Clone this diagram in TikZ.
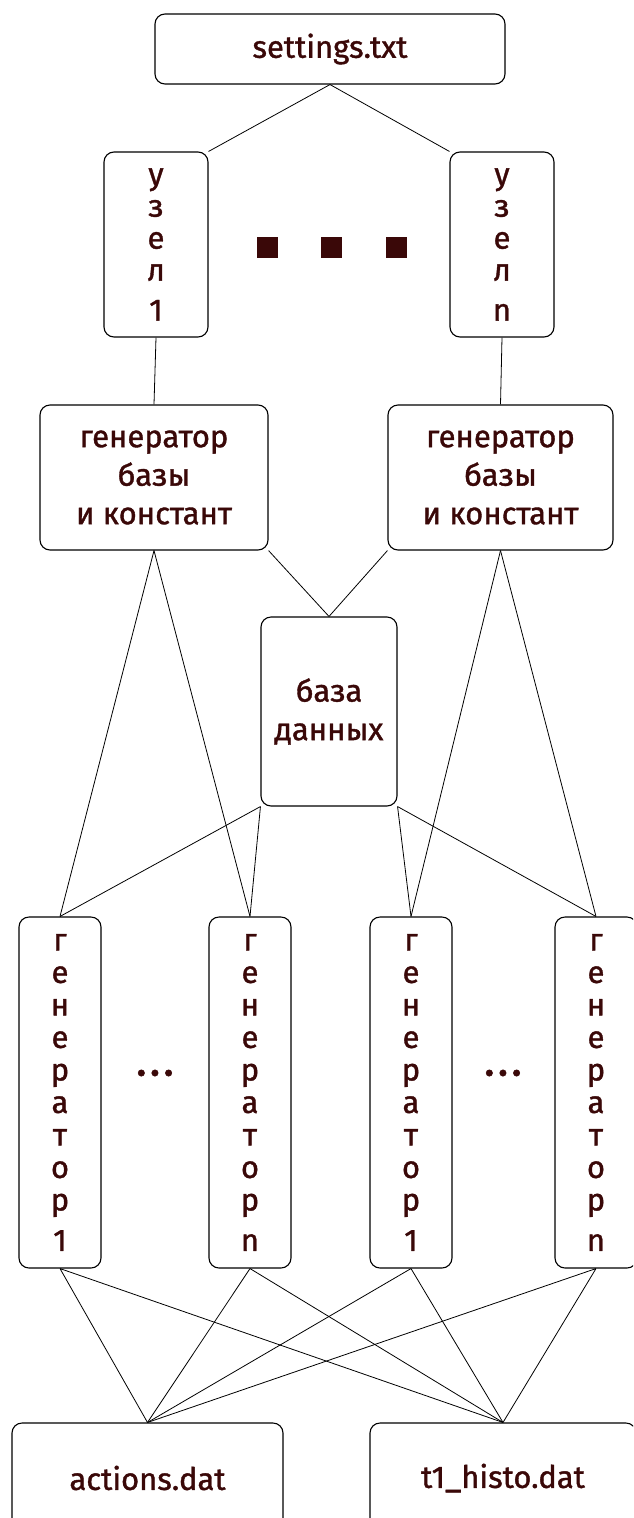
\documentclass[tikz,border=0pt]{standalone}
\usepackage{fontspec}
\setmainfont{Fira Sans}[FakeBold=1.2]
\definecolor{txtred}{HTML}{3A0808}
\begin{document}
\begin{tikzpicture}[x=1pt,y=-1pt,
  box/.style={draw,line width=1.1pt,rounded corners=10pt,fill=white,text=txtred,align=center,inner sep=0pt,font=\fontsize{31}{38.5}\selectfont},
  vbox/.style={box,minimum width=104pt,minimum height=185pt,font=\fontsize{31}{32}\selectfont},
  gbox/.style={box,minimum width=82pt,minimum height=351pt,font=\fontsize{31}{32.5}\selectfont},
  sq/.style={fill=txtred,minimum size=21pt,inner sep=0pt},
  link/.style={draw,line width=0.8pt}]
\clip (0,0) rectangle (633,1518);
\node[box,minimum width=350pt,minimum height=70pt] (settings) at (330,49) {settings.txt};
\node[vbox] (uzel1) at (156,244.5) {у\\з\\е\\л\\[8pt]1};
\node[vbox] (uzeln) at (502,244.5) {у\\з\\е\\л\\[8pt]n};
\node[sq] (sq1) at (267,247) {};
\node[sq] (sq2) at (331,247) {};
\node[sq] (sq3) at (396,247) {};
\node[box,minimum width=228pt,minimum height=145pt] (gena) at (154,477.5) {генератор\\базы\\и констант};
\node[box,minimum width=225pt,minimum height=145pt] (genb) at (500.5,477.5) {генератор\\базы\\и констант};
\node[box,minimum width=136pt,minimum height=189pt] (db) at (329,711.5) {база\\данных};
\node[gbox] (g11) at (60,1092.5) {г\\е\\н\\е\\р\\а\\т\\о\\р\\[8pt]1};
\node[gbox] (g1n) at (250,1092.5) {г\\е\\н\\е\\р\\а\\т\\о\\р\\[8pt]n};
\node[gbox] (g21) at (411,1092.5) {г\\е\\н\\е\\р\\а\\т\\о\\р\\[8pt]1};
\node[gbox] (g2n) at (596,1092.5) {г\\е\\н\\е\\р\\а\\т\\о\\р\\[8pt]n};
\node[text=txtred,font=\fontsize{36}{32}\bfseries] (dots1) at (155,1073) {.\kern5pt.\kern5pt.};
\node[text=txtred,font=\fontsize{36}{32}\bfseries] (dots2) at (503,1073) {.\kern5pt.\kern5pt.};
\node[box,minimum width=271pt,minimum height=110pt] (actions) at (147.5,1478) {actions.dat};
\node[box,minimum width=266pt,minimum height=110pt] (histo) at (503,1478) {t1\_histo.dat};
\draw[link] (settings.south) -- (uzel1.north east);
\draw[link] (settings.south) -- (uzeln.north west);
\draw[link] (uzel1.south) -- (gena.north);
\draw[link] (uzeln.south) -- (genb.north);
\draw[link] (gena.south east) -- (db.north);
\draw[link] (genb.south west) -- (db.north);
\draw[link] (gena.south) -- (g11.north);
\draw[link] (gena.south) -- (g1n.north);
\draw[link] (genb.south) -- (g21.north);
\draw[link] (genb.south) -- (g2n.north);
\draw[link] (db.south west) -- (g11.north);
\draw[link] (db.south west) -- (g1n.north);
\draw[link] (db.south east) -- (g21.north);
\draw[link] (db.south east) -- (g2n.north);
\foreach \g in {g11,g1n,g21,g2n}
  \draw[link] (\g.south) -- (actions.north) (\g.south) -- (histo.north);
\end{tikzpicture}
\end{document}
